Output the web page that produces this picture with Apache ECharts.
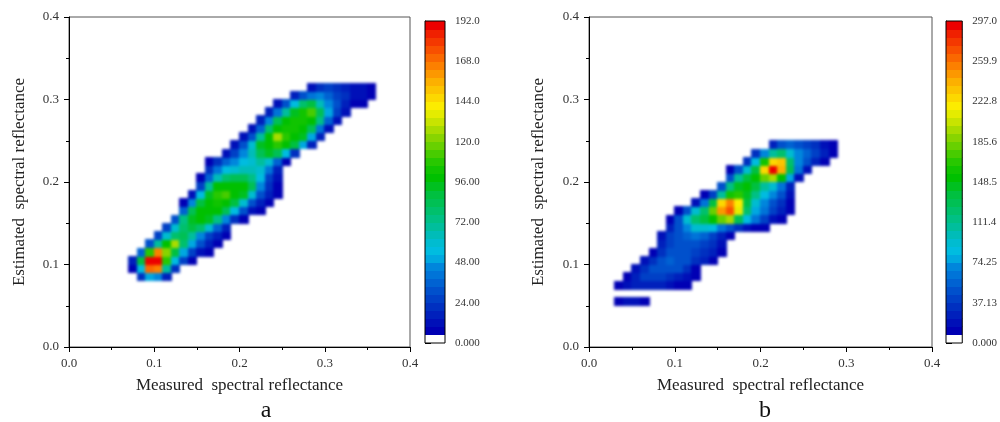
<!DOCTYPE html>
<html>
<head>
<meta charset="utf-8">
<script src="https://cdn.jsdelivr.net/npm/echarts@6/dist/echarts.min.js"></script>
<style>
  html, body { margin: 0; padding: 0; background: #fff; }
  .layer { position: absolute; left: 0; top: 0; width: 1000px; height: 422px; }
  /* soften the cell mosaic so it reads like filled contours */
  #density { filter: blur(1.5px); }
</style>
</head>
<body>
<div id="density" class="layer"></div>
<div id="chart" class="layer"></div>
<script>
// grid step of the density cells (both axes)
var cell = 0.01;
var axisLabels = ['0.0', '0.1', '0.2', '0.3', '0.4'];

var maxA = 192;
var maxB = 297;
var barLabelsA = ['0.000', '24.00', '48.00', '72.00', '96.00', '120.0', '144.0', '168.0', '192.0'];
var barLabelsB = ['0.000', '37.13', '74.25', '111.4', '148.5', '185.6', '222.8', '259.9', '297.0'];

// 40 contour levels, lowest one is white
var levelColors = [
  '#ffffff', '#0000b4', '#0010b8', '#0020bc', '#0030c0', '#0040c6', '#0050cc', '#0062d2',
  '#0074d8', '#0086dc', '#00a8e0', '#00bce0', '#00bcd0', '#00bcb8', '#00be9c', '#00c084',
  '#00c06c', '#00c054', '#00c040', '#00c020', '#00c000', '#10c400', '#28c800', '#48cc00',
  '#68d000', '#88d400', '#a8dc00', '#c8e400', '#e4ec00', '#fcec00', '#fcd800', '#fcc400',
  '#fcb000', '#fc9800', '#fc8000', '#fa6800', '#f85000', '#f43800', '#f02000', '#ec0000'
];

// rows: [y of row, x of first cell, values]
var densityA = [
  [0.085, 0.085, [20, 50, 45, 15]],
  [0.095, 0.075, [6, 55, 170, 165, 70, 20]],
  [0.105, 0.075, [15, 90, 192, 188, 110, 55, 25, 8]],
  [0.115, 0.085, [35, 110, 165, 120, 90, 50, 28, 14, 6]],
  [0.125, 0.095, [30, 70, 100, 125, 80, 48, 30, 18, 8]],
  [0.135, 0.105, [25, 60, 80, 85, 70, 45, 28, 15, 6]],
  [0.145, 0.115, [25, 60, 80, 88, 80, 60, 38, 18]],
  [0.155, 0.125, [30, 75, 92, 97, 92, 72, 45, 22, 8]],
  [0.165, 0.135, [35, 85, 98, 100, 98, 85, 55, 30, 14, 6]],
  [0.175, 0.135, [8, 45, 90, 100, 104, 100, 90, 60, 32, 16, 7]],
  [0.185, 0.145, [12, 55, 95, 108, 112, 100, 92, 60, 30, 15, 6]],
  [0.195, 0.155, [25, 70, 98, 100, 100, 98, 85, 45, 20, 8]],
  [0.205, 0.155, [8, 35, 65, 80, 85, 82, 75, 55, 28, 10]],
  [0.215, 0.165, [20, 40, 55, 62, 65, 65, 60, 40, 15]],
  [0.225, 0.165, [8, 20, 35, 45, 55, 62, 68, 60, 35, 8]],
  [0.235, 0.185, [12, 28, 45, 65, 85, 92, 85, 55, 20]],
  [0.245, 0.195, [10, 30, 60, 95, 100, 110, 100, 90, 50, 15]],
  [0.255, 0.205, [10, 30, 70, 100, 125, 110, 100, 92, 50, 15]],
  [0.265, 0.215, [12, 35, 80, 100, 105, 102, 98, 85, 40, 12]],
  [0.275, 0.225, [15, 45, 85, 98, 102, 104, 98, 75, 35, 12]],
  [0.285, 0.235, [18, 40, 70, 95, 105, 115, 85, 50, 25, 10]],
  [0.295, 0.245, [12, 30, 55, 80, 90, 65, 45, 30, 18, 8, 6]],
  [0.305, 0.265, [15, 30, 42, 45, 38, 28, 20, 14, 10, 6]],
  [0.315, 0.285, [12, 20, 24, 22, 18, 14, 10, 6]]
];

var densityB = [
  [0.055, 0.035, [12, 20, 18, 8]],
  [0.075, 0.035, [8, 20, 25, 28, 28, 25, 18, 12, 8]],
  [0.085, 0.045, [12, 28, 38, 40, 40, 35, 28, 18, 8]],
  [0.095, 0.055, [15, 35, 45, 50, 50, 45, 32, 12]],
  [0.105, 0.065, [15, 35, 48, 52, 50, 45, 35, 25, 12]],
  [0.115, 0.075, [8, 30, 45, 48, 45, 40, 35, 25, 12]],
  [0.125, 0.085, [25, 40, 45, 48, 45, 40, 30, 15]],
  [0.135, 0.085, [15, 38, 50, 55, 60, 55, 40, 25, 10]],
  [0.145, 0.095, [25, 50, 70, 90, 95, 85, 65, 48, 35, 22, 12, 8]],
  [0.155, 0.095, [10, 50, 95, 125, 140, 155, 185, 200, 130, 85, 60, 40, 22, 8]],
  [0.165, 0.105, [12, 45, 90, 125, 180, 250, 270, 215, 120, 80, 60, 40, 25, 8]],
  [0.175, 0.125, [20, 60, 140, 230, 255, 220, 140, 90, 70, 50, 32, 12]],
  [0.185, 0.135, [10, 40, 110, 160, 170, 145, 115, 88, 70, 45, 18]],
  [0.195, 0.155, [45, 115, 145, 150, 135, 110, 90, 60, 25]],
  [0.205, 0.165, [50, 110, 140, 150, 180, 200, 150, 80, 20]],
  [0.215, 0.165, [10, 45, 95, 140, 230, 297, 240, 130, 60, 15]],
  [0.225, 0.185, [35, 85, 160, 225, 235, 120, 70, 45, 25, 8]],
  [0.235, 0.195, [30, 70, 110, 120, 95, 70, 55, 40, 25, 10]],
  [0.245, 0.215, [25, 45, 55, 50, 40, 30, 18, 8]]
];

var serif = '"Liberation Serif", "DejaVu Serif", serif';

var plotGridA = { left: 69, top: 17, width: 341, height: 330 };
var plotGridB = { left: 589, top: 17, width: 343, height: 330 };

function toCells(rows) {
  var out = [];
  rows.forEach(function (r) {
    r[2].forEach(function (v, j) {
      out.push([+(r[1] + j * cell).toFixed(3), r[0], v]);
    });
  });
  return out;
}

function levelPieces(max) {
  var step = max / 40, list = [];
  for (var i = 0; i < 40; i++) {
    list.push({ gte: i * step, lt: i === 39 ? max * 2 : (i + 1) * step, color: levelColors[i] });
  }
  return list;
}

// colour bar: one band per level [x, low, mid, high]
function barBands(max) {
  var step = max / 40, out = [];
  for (var i = 0; i < 40; i++) {
    out.push([0, i * step, (i + 0.5) * step, (i + 1) * step]);
  }
  return out;
}

function drawCell(params, api) {
  var x = api.value(0), y = api.value(1);
  var a = api.coord([x - cell / 2, y + cell / 2]);
  var b = api.coord([x + cell / 2, y - cell / 2]);
  var x0 = Math.floor(a[0]), y0 = Math.floor(a[1]);
  return {
    type: 'rect',
    shape: { x: x0, y: y0, width: Math.ceil(b[0]) - x0, height: Math.ceil(b[1]) - y0 },
    style: { fill: api.visual('color') }
  };
}

function drawBand(params, api) {
  var a = api.coord([0, api.value(3)]);
  var b = api.coord([1, api.value(1)]);
  var y0 = Math.floor(a[1]);
  return {
    type: 'rect',
    shape: { x: a[0], y: y0, width: b[0] - a[0], height: Math.ceil(b[1]) - y0 },
    style: { fill: api.visual('color') }
  };
}

function plotAxis(grid, name, gap) {
  return {
    type: 'value', gridIndex: grid, min: 0, max: 0.4, interval: 0.1,
    name: name, nameLocation: 'middle', nameGap: gap,
    nameTextStyle: { fontFamily: serif, fontSize: 17, color: '#222' },
    axisLine: { show: true, onZero: false, lineStyle: { color: '#000', width: 1 } },
    axisTick: { show: true, length: 5, lineStyle: { color: '#000' } },
    minorTick: { show: true, splitNumber: 2, length: 3, lineStyle: { color: '#000' } },
    splitLine: { show: false },
    minorSplitLine: { show: false },
    axisLabel: {
      fontFamily: serif, fontSize: 13, color: '#333', margin: 10,
      formatter: function (v) { return axisLabels[Math.round(v / 0.1)]; }
    }
  };
}

function plainAxis(grid) {
  return { type: 'value', gridIndex: grid, min: 0, max: 0.4, show: false };
}

function barAxis(grid, max, labels) {
  return {
    type: 'value', gridIndex: grid, min: 0, max: max, interval: max / 8, position: 'right',
    axisLine: { show: true, lineStyle: { color: '#000' } },
    axisTick: { show: true, length: 6, lineStyle: { color: '#000' } },
    splitLine: { show: false },
    axisLabel: {
      fontFamily: serif, fontSize: 11, color: '#333', margin: 10,
      formatter: function (v) { return labels[Math.round(v / (max / 8))]; }
    }
  };
}

function hiddenX(grid) {
  return { type: 'value', gridIndex: grid, min: 0, max: 1, show: false };
}

// bottom layer: the density cells
var densChart = echarts.init(document.getElementById('density'));
densChart.setOption({
  animation: false,
  backgroundColor: '#fff',
  grid: [plotGridA, plotGridB],
  xAxis: [plainAxis(0), plainAxis(1)],
  yAxis: [plainAxis(0), plainAxis(1)],
  visualMap: [
    { type: 'piecewise', show: false, dimension: 2, seriesIndex: 0, pieces: levelPieces(maxA) },
    { type: 'piecewise', show: false, dimension: 2, seriesIndex: 1, pieces: levelPieces(maxB) }
  ],
  series: [
    { type: 'custom', xAxisIndex: 0, yAxisIndex: 0, renderItem: drawCell,
      encode: { x: 0, y: 1 }, data: toCells(densityA) },
    { type: 'custom', xAxisIndex: 1, yAxisIndex: 1, renderItem: drawCell,
      encode: { x: 0, y: 1 }, data: toCells(densityB) }
  ]
});

// top layer: axes, frames, colour bars and labels
var myChart = echarts.init(document.getElementById('chart'));
myChart.setOption({
  animation: false,
  backgroundColor: 'transparent',
  title: [
    { text: 'a', left: 261, top: 394, textAlign: 'center',
      textStyle: { fontFamily: serif, fontSize: 24, fontWeight: 'normal', color: '#111' } },
    { text: 'b', left: 760, top: 394, textAlign: 'center',
      textStyle: { fontFamily: serif, fontSize: 24, fontWeight: 'normal', color: '#111' } }
  ],
  grid: [
    Object.assign({ show: true, borderColor: '#555', borderWidth: 1 }, plotGridA),
    { left: 425, top: 21, width: 20, height: 322, show: true, borderColor: '#000', borderWidth: 1, z: 5 },
    Object.assign({ show: true, borderColor: '#555', borderWidth: 1 }, plotGridB),
    { left: 946, top: 21, width: 21, height: 322, show: true, borderColor: '#000', borderWidth: 1, z: 5 }
  ],
  xAxis: [
    plotAxis(0, 'Measured  spectral reflectance', 30),
    hiddenX(1),
    plotAxis(2, 'Measured  spectral reflectance', 30),
    hiddenX(3)
  ],
  yAxis: [
    plotAxis(0, 'Estimated  spectral reflectance', 41),
    barAxis(1, maxA, barLabelsA),
    plotAxis(2, 'Estimated  spectral reflectance', 42),
    barAxis(3, maxB, barLabelsB)
  ],
  visualMap: [
    { type: 'piecewise', show: false, dimension: 2, seriesIndex: 0, pieces: levelPieces(maxA) },
    { type: 'piecewise', show: false, dimension: 2, seriesIndex: 1, pieces: levelPieces(maxB) }
  ],
  series: [
    { type: 'custom', xAxisIndex: 1, yAxisIndex: 1, renderItem: drawBand,
      encode: { x: 0, y: 1 }, data: barBands(maxA) },
    { type: 'custom', xAxisIndex: 3, yAxisIndex: 3, renderItem: drawBand,
      encode: { x: 0, y: 1 }, data: barBands(maxB) }
  ]
});
</script>
</body>
</html>
